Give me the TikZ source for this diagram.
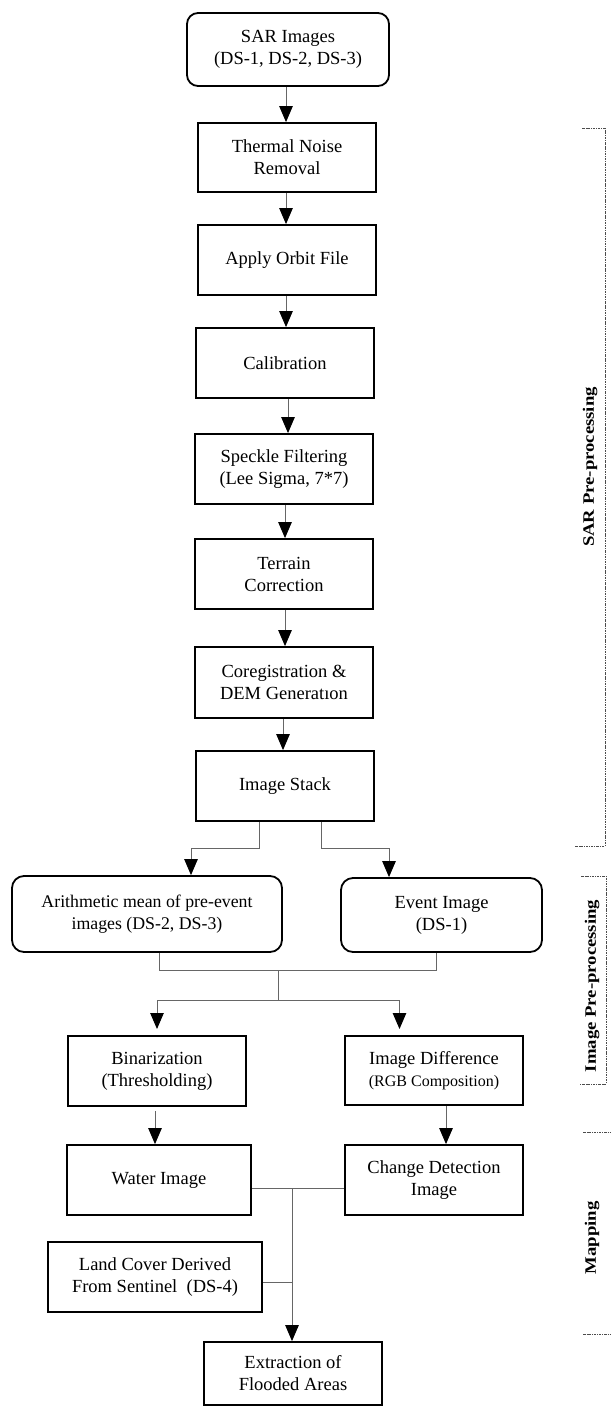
\documentclass[tikz,border=0pt]{standalone}
\usepackage{fontspec}
\setmainfont{Liberation Serif}
\usetikzlibrary{arrows.meta,calc}
\begin{document}
\begin{tikzpicture}[x=1pt,y=-1pt,
  box/.style={draw=black, line width=1.8pt, inner sep=0pt, align=center,
    font=\fontsize{18.5}{22}\selectfont},
  rbox/.style={box, rounded corners=11pt},
  conn/.style={draw=black!60, line width=1pt},
  arr/.style={conn, -{Triangle[length=16pt,width=13.5pt,black]}},
  brk/.style={draw=black!70, line width=0.8pt, dash pattern=on 2.5pt off 1pt on 0.8pt off 1pt},
  lab/.style={rotate=90, inner sep=0pt, font=\fontsize{18.7}{22}\selectfont\bfseries}
]
\useasboundingbox (0,0) rectangle (611,1407);

% main column
\node[rbox, minimum width=202pt, minimum height=73pt] (sar) at (288,49.5) {SAR Images\\(DS-1, DS-2, DS-3)};
\node[box, minimum width=178pt, minimum height=69pt] (thermal) at (287,157.5) {Thermal Noise\\Removal};
\node[box, minimum width=178pt, minimum height=70pt] (orbit) at (287,260) {Apply Orbit File};
\node[box, minimum width=178pt, minimum height=70pt] (calib) at (285,363) {Calibration};
\node[box, minimum width=178pt, minimum height=70pt] (speckle) at (284,469) {Speckle Filtering\\(Lee Sigma, 7*7)};
\node[box, minimum width=178pt, minimum height=70pt] (terrain) at (284,574) {Terrain\\Correction};
\node[box, minimum width=178pt, minimum height=71pt] (coreg) at (284,682.5) {Coregistration \&\\DEM Generatıon};
\node[box, minimum width=178pt, minimum height=70pt] (stack) at (285,786) {Image Stack};

% second level
\node[rbox, minimum width=270pt, minimum height=76pt, rounded corners=12pt, font=\fontsize{17.8}{22}\selectfont] (arith) at (147,914) {Arithmetic mean of pre-event\\images (DS-2, DS-3)};
\node[rbox, minimum width=201pt, minimum height=74pt, rounded corners=12pt] (event) at (441.5,915) {Event Image\\(DS-1)};

\node[box, minimum width=178pt, minimum height=70pt] (binar) at (157,1071) {Binarization\\(Thresholding)};
\node[box, minimum width=178pt, minimum height=69pt] (imgdiff) at (434,1070.5) {Image Difference\\{\fontsize{16}{20}\selectfont (RGB Composition)}};

\node[box, minimum width=184pt, minimum height=70pt] (water) at (159,1180) {Water Image};
\node[box, minimum width=178pt, minimum height=70pt] (change) at (434,1180) {Change Detection\\Image};
\node[box, minimum width=214pt, minimum height=70pt] (land) at (155,1277) {Land Cover Derived\\From Sentinel\ \ (DS-4)};
\node[box, minimum width=178pt, minimum height=63pt] (extract) at (293,1373.5) {Extraction of\\Flooded Areas};

% vertical arrows of the main column
\draw[arr] (sar.south -| 286,0) -- (thermal.north -| 286,0);
\draw[arr] (thermal.south -| 286,0) -- (orbit.north -| 286,0);
\draw[arr] (orbit.south -| 286,0) -- (calib.north -| 286,0);
\draw[arr] (calib.south -| 288,0) -- (speckle.north -| 288,0);
\draw[arr] (speckle.south -| 285,0) -- (terrain.north -| 285,0);
\draw[arr] (terrain.south -| 285,0) -- (coreg.north -| 285,0);
\draw[arr] (coreg.south -| 283,0) -- (stack.north -| 283,0);

% split from image stack
\coordinate (s1) at (259,848);
\coordinate (s2) at (321.5,848);
\draw[arr] (stack.south -| s1) -- (s1) -- (191,848) -- (arith.north -| 191,0);
\draw[arr] (stack.south -| s2) -- (s2) -- (389,848) -- (event.north -| 389,0);

% merge
\coordinate (m1) at (159,970);
\coordinate (m2) at (436.5,970);
\coordinate (mj) at (278,970);
\coordinate (mk) at (278,1000);
\draw[conn] (arith.south -| m1) -- (m1) -- (m2) -- (event.south -| m2);
\draw[conn] (mj) -- (mk);
\coordinate (b1) at (157,1000);
\coordinate (b2) at (399.5,1000);
\draw[conn] (b1) -- (b2);
\draw[arr] (b1) -- (157,1029) coordinate (b1e);
\draw[arr] (b2) -- (399.5,1029) coordinate (b2e);

% to water / change
\draw[arr] ($(binar.south)+(-2,4)$) -- (water.north -| 155,0);
\draw[arr] ($(imgdiff.south)+(12,0)$) -- ($(change.north)+(12,0)$);

% mapping connectors
\coordinate (h1) at (292,1188);
\coordinate (h2) at (292,1282);
\draw[conn] (water.east |- h1) -- (change.west |- h1);
\draw[conn] (land.east |- h2) -- (h2);
\draw[arr] (h1) -- (extract.north -| h1);

% right side brackets
\draw[brk] (582,128) -- (605,128) -- (605,846) -- (575,846);
\draw[brk] (581,876) -- (606,876) -- (606,1084) -- (580,1084);
\draw[brk] (583,1132) -- (611,1132);
\draw[brk] (583,1334) -- (611,1334);

\node[lab] (lsar) at (590,467) {\scalebox{1}[0.85]{SAR Pre-processing}};
\node[lab] (limg) at (592,986) {\scalebox{1}[0.85]{Image Pre-processing}};
\node[lab] (lmap) at (592,1238) {\scalebox{1}[0.85]{Mapping}};
\end{tikzpicture}
\end{document}
